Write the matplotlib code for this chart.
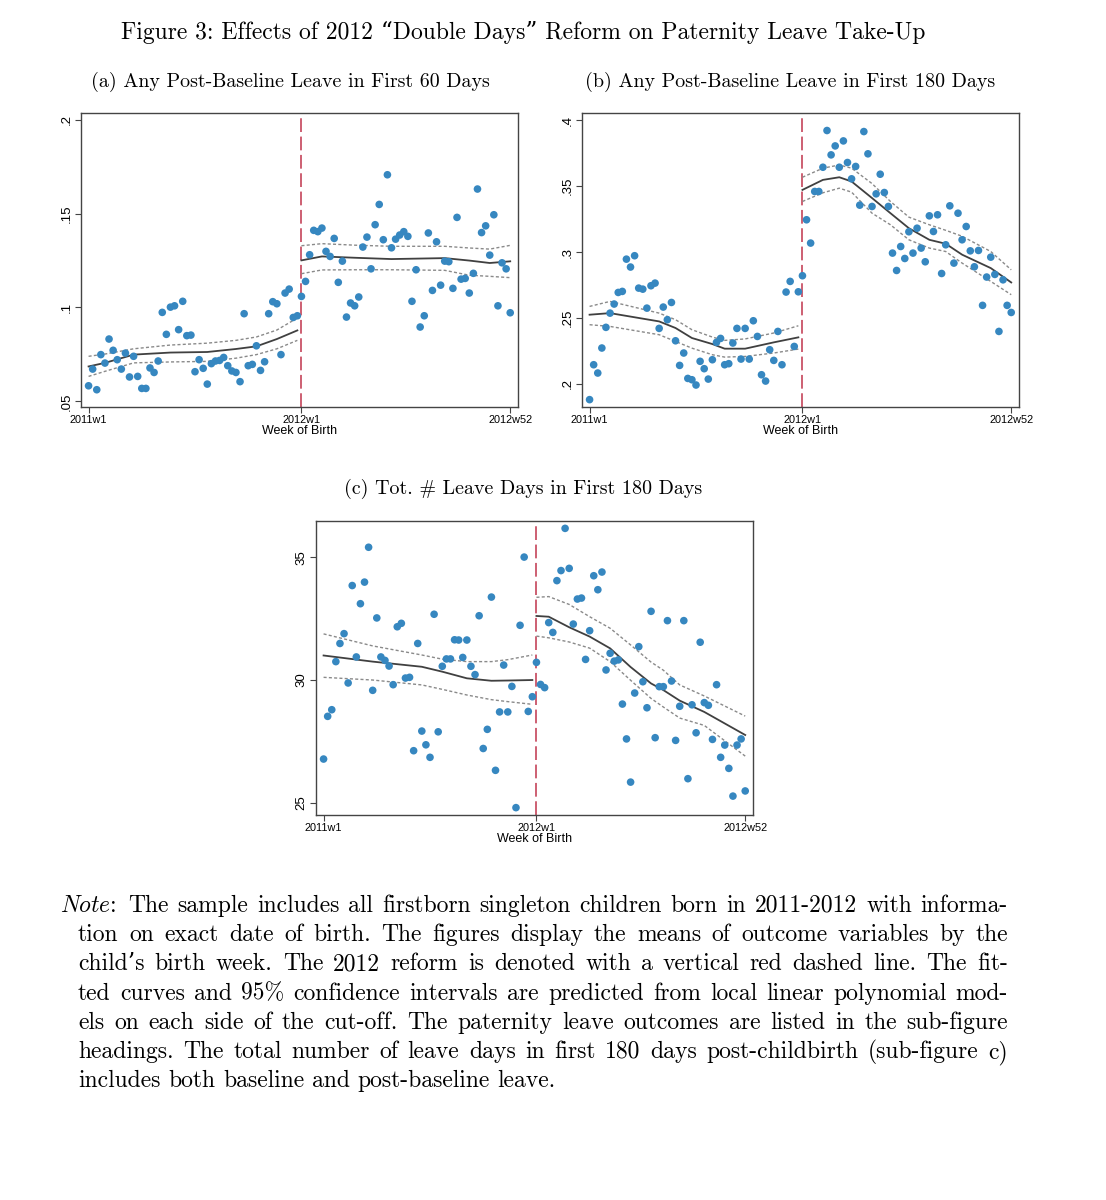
import numpy as np
import matplotlib.pyplot as plt

plt.rcParams['font.family'] = ['cmr10', 'DejaVu Serif']
plt.rcParams['mathtext.fontset'] = 'cm'
plt.rcParams['axes.unicode_minus'] = False

# week of birth index: 0 = 2011w1, 52 = 2012w1, 103 = 2012w52
weeks = np.arange(104)
cutoff = 52
xtick_pos = [0, 52, 103]
xtick_lab = ['2011w1', '2012w1', '2012w52']

# (a) any post-baseline leave in first 60 days
a_vals = [0.0583, 0.0672, 0.0562, 0.0749, 0.0704, 0.0832, 0.0772, 0.0722, 0.0672, 0.0757,
          0.0630, 0.0740, 0.0633, 0.0569, 0.0569, 0.0678, 0.0654, 0.0715, 0.0974, 0.0857,
          0.1002, 0.1009, 0.0882, 0.1033, 0.0850, 0.0853, 0.0658, 0.0722, 0.0676, 0.0592,
          0.0701, 0.0715, 0.0718, 0.0734, 0.0690, 0.0662, 0.0654, 0.0605, 0.0967, 0.0690,
          0.0697, 0.0796, 0.0665, 0.0711, 0.0967, 0.1031, 0.1020, 0.0749, 0.1077, 0.1098,
          0.0947, 0.0956,
          0.1059, 0.1139, 0.1281, 0.1411, 0.1404, 0.1423, 0.1299, 0.1272, 0.1368, 0.1134,
          0.1247, 0.0949, 0.1024, 0.1009, 0.1056, 0.1322, 0.1375, 0.1206, 0.1441, 0.1549,
          0.1361, 0.1707, 0.1318, 0.1364, 0.1386, 0.1404, 0.1379, 0.1033, 0.1201, 0.0896,
          0.0956, 0.1397, 0.1091, 0.1350, 0.1119, 0.1247, 0.1244, 0.1102, 0.1480, 0.1151,
          0.1155, 0.1077, 0.1182, 0.1631, 0.1399, 0.1435, 0.1279, 0.1494, 0.1009, 0.1238,
          0.1206, 0.0972]
a_left_wk = [0, 4, 11, 20, 29, 36, 41, 46, 51]
a_left_fit = [0.0686, 0.0705, 0.0749, 0.0760, 0.0763, 0.0779, 0.0793, 0.0832, 0.0878]
a_left_hi = [0.0740, 0.0752, 0.0780, 0.0800, 0.0810, 0.0825, 0.0843, 0.0880, 0.0944]
a_left_lo = [0.0633, 0.0660, 0.0705, 0.0710, 0.0713, 0.0730, 0.0749, 0.0780, 0.0825]
a_right_wk = [52, 57, 65, 74, 87, 93, 98, 103]
a_right_fit = [0.1251, 0.1272, 0.1265, 0.1258, 0.1263, 0.1250, 0.1237, 0.1246]
a_right_hi = [0.1329, 0.1340, 0.1332, 0.1326, 0.1326, 0.1317, 0.1311, 0.1331]
a_right_lo = [0.1180, 0.1200, 0.1201, 0.1201, 0.1198, 0.1172, 0.1166, 0.1159]

# (b) any post-baseline leave in first 180 days
b_vals = [0.1879, 0.2144, 0.2081, 0.2271, 0.2428, 0.2536, 0.2605, 0.2693, 0.2701, 0.2946,
          0.2886, 0.2972, 0.2726, 0.2718, 0.2574, 0.2744, 0.2764, 0.2420, 0.2582, 0.2486,
          0.2617, 0.2326, 0.2139, 0.2233, 0.2040, 0.2030, 0.1990, 0.2170, 0.2114, 0.2035,
          0.2182, 0.2314, 0.2344, 0.2144, 0.2152, 0.2309, 0.2420, 0.2187, 0.2420, 0.2187,
          0.2478, 0.2359, 0.2068, 0.2020, 0.2258, 0.2177, 0.2397, 0.2144, 0.2696, 0.2777,
          0.2283, 0.2698,
          0.2820, 0.3245, 0.3068, 0.3460, 0.3460, 0.3644, 0.3923, 0.3738, 0.3806, 0.3644,
          0.3844, 0.3680, 0.3556, 0.3650, 0.3356, 0.3915, 0.3746, 0.3346, 0.3442, 0.3591,
          0.3452, 0.3346, 0.2992, 0.2860, 0.3042, 0.2951, 0.3154, 0.2992, 0.3181, 0.3030,
          0.2926, 0.3275, 0.3156, 0.3283, 0.2837, 0.3055, 0.3351, 0.2916, 0.3295, 0.3093,
          0.3194, 0.3009, 0.2888, 0.3012, 0.2595, 0.2810, 0.2961, 0.2830, 0.2397, 0.2789,
          0.2595, 0.2541]
b_left_wk = [0, 5, 17, 21, 25, 30, 33, 38, 45, 51]
b_left_fit = [0.2524, 0.2536, 0.2473, 0.2423, 0.2347, 0.2301, 0.2266, 0.2266, 0.2314, 0.2352]
b_left_hi = [0.2587, 0.2625, 0.2536, 0.2486, 0.2410, 0.2354, 0.2329, 0.2340, 0.2385, 0.2440]
b_left_lo = [0.2448, 0.2435, 0.2372, 0.2321, 0.2270, 0.2220, 0.2202, 0.2207, 0.2233, 0.2263]
b_right_wk = [52, 57, 61, 64, 69, 73.5, 78, 83, 87, 91, 98, 103]
b_right_fit = [0.3472, 0.3548, 0.3568, 0.3536, 0.3410, 0.3295, 0.3181, 0.3093, 0.3063, 0.2980, 0.2878, 0.2769]
b_right_hi = [0.3568, 0.3637, 0.3661, 0.3637, 0.3520, 0.3384, 0.3265, 0.3207, 0.3165, 0.3120, 0.3004, 0.2865]
b_right_lo = [0.3384, 0.3450, 0.3485, 0.3455, 0.3295, 0.3207, 0.3093, 0.3030, 0.3004, 0.2916, 0.2777, 0.2676]

# (c) total number of leave days in first 180 days
c_vals = [26.78, 28.52, 28.79, 30.75, 31.49, 31.89, 29.88, 33.85, 30.94, 33.11,
          33.99, 35.41, 29.58, 32.53, 30.94, 30.80, 30.57, 29.81, 32.17, 32.31,
          30.08, 30.11, 27.12, 31.49, 27.92, 27.36, 26.85, 32.68, 27.89, 30.56,
          30.86, 30.86, 31.64, 31.63, 30.92, 31.63, 30.56, 30.22, 32.62, 27.21,
          27.99, 33.38, 26.32, 28.70, 30.61, 28.70, 29.74, 24.80, 32.23, 35.01,
          28.72, 29.32,
          30.72, 29.82, 29.69, 32.34, 31.94, 34.05, 34.46, 36.18, 34.55, 32.28,
          33.30, 33.34, 30.84, 32.01, 34.25, 33.68, 34.40, 30.41, 31.09, 30.77,
          30.82, 29.02, 27.60, 25.84, 29.47, 31.36, 29.93, 28.87, 32.80, 27.65,
          29.73, 29.73, 32.42, 29.96, 27.54, 28.93, 32.42, 25.98, 28.99, 27.85,
          31.54, 29.08, 28.97, 27.58, 29.81, 26.85, 27.35, 26.40, 25.27, 27.35,
          27.60, 25.48]
c_left_wk = [0, 12, 24, 29, 35, 41, 45, 51]
c_left_fit = [31.00, 30.75, 30.54, 30.34, 30.07, 29.97, 29.98, 30.00]
c_left_hi = [31.88, 31.39, 31.02, 30.85, 30.75, 30.75, 30.83, 31.02]
c_left_lo = [30.11, 30.00, 29.80, 29.62, 29.39, 29.20, 29.12, 29.01]
c_right_wk = [52, 55, 60, 65, 70, 75, 80, 83, 87, 93, 103]
c_right_fit = [32.61, 32.58, 32.15, 31.77, 31.29, 30.53, 29.86, 29.59, 29.16, 28.70, 27.76]
c_right_hi = [33.37, 33.40, 33.08, 32.58, 32.11, 31.43, 30.73, 30.40, 29.80, 29.35, 28.53]
c_right_lo = [31.79, 31.72, 31.55, 31.30, 30.75, 29.99, 29.25, 28.90, 28.45, 28.15, 26.90]

W, H = 1106, 1200
fig = plt.figure(figsize=(W / 100, H / 100), dpi=100)
fig.patch.set_facecolor('white')

DOT = '#3687c0'
FIT = '#404040'
CI = '#8a8a8a'
RED = '#c0344c'
FRAME = '#444444'
SANS = 'Liberation Sans'


def px_axes(left, top, right, bottom):
    return fig.add_axes([left / W, 1 - bottom / H, (right - left) / W, (bottom - top) / H])


def panel(ax, vals, left, right, ylim, yticks, ylabels):
    ax.scatter(weeks, vals, s=30, color=DOT, edgecolors='none', zorder=3)
    for wk, fit, hi, lo in (left, right):
        ax.plot(wk, hi, color=CI, lw=1.0, ls=(0, (2.2, 1.6)), zorder=2)
        ax.plot(wk, lo, color=CI, lw=1.0, ls=(0, (2.2, 1.6)), zorder=2)
        ax.plot(wk, fit, color=FIT, lw=1.3, zorder=2)
    ax.axvline(cutoff, color=RED, lw=1.1, ls=(0, (9, 3)), zorder=1)
    ax.set_xlim(-1.85, 104.9)
    ax.set_ylim(*ylim)
    ax.set_xticks(xtick_pos)
    ax.set_xticklabels(xtick_lab, family=SANS, fontsize=7.8)
    ax.set_yticks(yticks)
    ax.set_yticklabels(ylabels, family=SANS, fontsize=9.5, rotation=90, va='center')
    ax.tick_params(length=4, width=0.8, color=FRAME, pad=2)
    for s in ax.spines.values():
        s.set_color(FRAME)
        s.set_linewidth(1.0)
    ax.set_xlabel('Week of Birth', family=SANS, fontsize=9, labelpad=0)


ax_a = px_axes(81, 113, 518, 407)
panel(ax_a, a_vals,
      (a_left_wk, a_left_fit, a_left_hi, a_left_lo),
      (a_right_wk, a_right_fit, a_right_hi, a_right_lo),
      (0.047, 0.2036), [0.05, 0.1, 0.15, 0.2], ['.05', '.1', '.15', '.2'])

ax_b = px_axes(582, 113, 1019, 407)
panel(ax_b, b_vals,
      (b_left_wk, b_left_fit, b_left_hi, b_left_lo),
      (b_right_wk, b_right_fit, b_right_hi, b_right_lo),
      (0.1823, 0.4056), [0.2, 0.25, 0.3, 0.35, 0.4], ['.2', '.25', '.3', '.35', '.4'])

ax_c = px_axes(316, 521, 753, 815)
panel(ax_c, c_vals,
      (c_left_wk, c_left_fit, c_left_hi, c_left_lo),
      (c_right_wk, c_right_fit, c_right_hi, c_right_lo),
      (24.5, 36.48), [25, 30, 35], ['25', '30', '35'])


def ftext(x, y, s, **kw):
    return fig.text(x / W, 1 - y / H, s, **kw)


ftext(523, 39, 'Figure 3: Effects of 2012 \u201cDouble Days\u201d Reform on Paternity Leave Take-Up',
      ha='center', va='baseline', fontsize=17)
ftext(290, 87, '(a) Any Post-Baseline Leave in First 60 Days', ha='center', va='baseline', fontsize=14.4)
ftext(790, 87, '(b) Any Post-Baseline Leave in First 180 Days', ha='center', va='baseline', fontsize=14.4)
ftext(523, 494, '(c) Tot. # Leave Days in First 180 Days', ha='center', va='baseline', fontsize=14.4)

# note, justified like the LaTeX source
note_lines = [
    'The sample includes all firstborn singleton children born in 2011-2012 with informa-',
    'tion on exact date of birth. The figures display the means of outcome variables by the',
    'child\u2019s birth week. The 2012 reform is denoted with a vertical red dashed line. The fit-',
    'ted curves and 95% confidence intervals are predicted from local linear polynomial mod-',
    'els on each side of the cut-off. The paternity leave outcomes are listed in the sub-figure',
    'headings. The total number of leave days in first 180 days post-childbirth (sub-figure c)',
    'includes both baseline and post-baseline leave.',
]
renderer = fig.canvas.get_renderer()
NOTE_FS = 17
x_right = 1008
for k, line in enumerate(note_lines):
    y = 912 + k * 29.2
    words = line.split(' ')
    x0 = 78
    if k == 0:
        t = ftext(60, y, r'$\mathit{Note}$:', va='baseline', fontsize=NOTE_FS)
        x0 = 60 + t.get_window_extent(renderer).width + 12
    texts = [ftext(0, y, w, va='baseline', fontsize=NOTE_FS) for w in words]
    widths = [t.get_window_extent(renderer).width for t in texts]
    if k < len(note_lines) - 1:
        gap = (x_right - x0 - sum(widths)) / (len(words) - 1)
    else:
        gap = 0.33 * NOTE_FS * 100 / 72
    x = x0
    for t, w in zip(texts, widths):
        t.set_x(x / W)
        x += w + gap

fig.savefig('out.png', dpi=100, facecolor='white')
